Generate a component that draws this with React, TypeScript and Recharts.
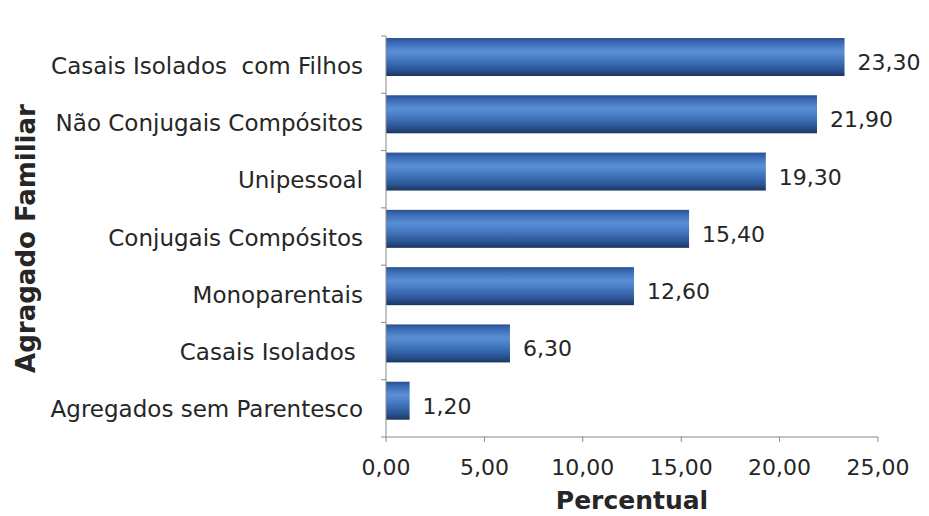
// Barras horizontais: distribuição percentual por agregado familiar.

import { Bar, BarChart, LabelList, XAxis, YAxis } from "recharts";

const categories = [
  "Casais Isolados  com Filhos",
  "Não Conjugais Compósitos",
  "Unipessoal",
  "Conjugais Compósitos",
  "Monoparentais",
  "Casais Isolados ",
  "Agregados sem Parentesco",
];
const values = [23.3, 21.9, 19.3, 15.4, 12.6, 6.3, 1.2];
const xTicks = [0, 5, 10, 15, 20, 25];
const yTitle = "Agragado Familiar";
const xTitle = "Percentual";

const data = categories.map((name, i) => ({ name, value: values[i] }));

const font = "'DejaVu Sans', Verdana, sans-serif";
const axisColor = "#8a8a8a";
const textColor = "#262626";
const fmt = (v: number) => v.toFixed(2).replace(".", ",");

// Barras desenhadas um pouco acima do centro da faixa, como no original
const BAR_SHIFT = 8;

function BarShape(props: any) {
  const { x, y, width, height } = props;
  if (!width || width <= 0) return null;
  return <rect x={x} y={y - BAR_SHIFT} width={width} height={height} fill="url(#barGrad)" />;
}

function CategoryTick(props: any) {
  const { x, y, payload, index, visibleTicksCount } = props;
  const half = payload?.offset ?? 28.6;
  const axisX = x + 23;
  const last = index === (visibleTicksCount ?? categories.length) - 1;
  return (
    <g>
      <line x1={axisX - 5} x2={axisX} y1={y - half} y2={y - half} stroke={axisColor} />
      {last && <line x1={axisX - 5} x2={axisX} y1={y + half} y2={y + half} stroke={axisColor} />}
      <text x={x} y={y + 9} textAnchor="end" fontSize={23} fontFamily={font} fill={textColor}
            style={{ whiteSpace: "pre" }}>
        {payload.value}
      </text>
    </g>
  );
}

function ValueLabel(props: any) {
  const { x, y, width, height, value } = props;
  return (
    <text x={x + width + 13} y={y + height / 2 + 5} fontSize={22} fontFamily={font} fill={textColor}>
      {fmt(Number(value))}
    </text>
  );
}

function YTitle(props: any) {
  const vb = props.viewBox || {};
  const cy = (vb.y ?? 36) + (vb.height ?? 401) / 2 + 2;
  return (
    <text x={35} y={cy} transform={`rotate(-90, 35, ${cy})`} textAnchor="middle"
          fontSize={26} fontWeight="bold" fontFamily={font} fill={textColor}>
      {yTitle}
    </text>
  );
}

function XTitle(props: any) {
  const vb = props.viewBox || {};
  const cx = (vb.x ?? 386) + (vb.width ?? 492) / 2;
  return (
    <text x={cx} y={509} textAnchor="middle" fontSize={25} fontWeight="bold" fontFamily={font} fill={textColor}>
      {xTitle}
    </text>
  );
}

export default function App() {
  return (
    <div style={{ position: "absolute", left: 0, top: 0, background: "#fff" }}>
      <BarChart width={929} height={516} data={data} layout="vertical"
                margin={{ top: 36, right: 51, bottom: 0, left: 0 }}>
        <defs>
          <linearGradient id="barGrad" x1="0" y1="0" x2="0" y2="1">
            <stop offset="0%" stopColor="#2a5092" />
            <stop offset="12%" stopColor="#3a6cb6" />
            <stop offset="35%" stopColor="#5a8fd6" />
            <stop offset="55%" stopColor="#477ac2" />
            <stop offset="82%" stopColor="#2c5798" />
            <stop offset="100%" stopColor="#1b3660" />
          </linearGradient>
        </defs>
        <XAxis type="number" domain={[0, 25]} ticks={xTicks} tickFormatter={fmt} height={79}
               stroke={axisColor} tickSize={5} tickMargin={17}
               tick={{ fontSize: 22, fontFamily: font, fill: textColor }}
               label={{ content: XTitle }} />
        <YAxis type="category" dataKey="name" width={386} stroke={axisColor}
               tickLine={false} tickSize={5} tickMargin={18} interval={0}
               tick={<CategoryTick />} label={{ content: YTitle }} />
        <Bar dataKey="value" barSize={38} shape={<BarShape />} isAnimationActive={false}>
          <LabelList dataKey="value" content={<ValueLabel />} />
        </Bar>
      </BarChart>
    </div>
  );
}
